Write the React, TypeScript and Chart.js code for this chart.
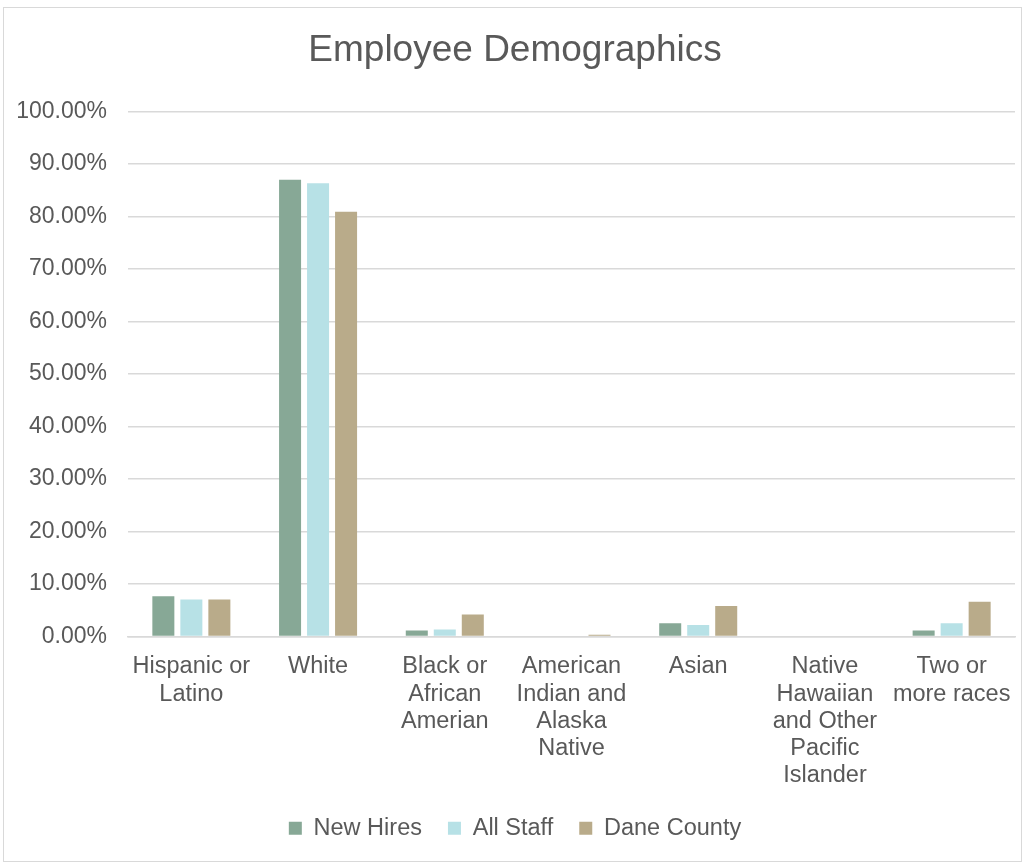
import React, { useEffect, useRef } from "react";
import { Chart, registerables } from "chart.js";

Chart.register(...registerables);

const categories: (string | string[])[] = [
  ["Hispanic or", "Latino"],
  "White",
  ["Black or", "African", "Amerian"],
  ["American", "Indian and", "Alaska", "Native"],
  "Asian",
  ["Native", "Hawaiian", "and Other", "Pacific", "Islander"],
  ["Two or", "more races"],
];

const newHires = [7.65, 87.0, 1.15, 0, 2.5, 0, 1.15];
const allStaff = [7.07, 86.3, 1.35, 0, 2.2, 0, 2.5];
const daneCounty = [7.07, 80.9, 4.2, 0.35, 5.8, 0, 6.6];

const seriesNames = ["New Hires", "All Staff", "Dane County"];
const seriesColors = ["#87A896", "#B7E1E6", "#B9AB8A"];

const yTicksMin = 0;
const yTicksMax = 100;
const yTickStep = 10;

const TEXT = "#595959";
const FONT = "'Liberation Sans', Arial, sans-serif";

export default function App() {
  const ref = useRef<HTMLCanvasElement | null>(null);

  useEffect(() => {
    if (!ref.current) return;
    const chart = new Chart(ref.current, {
      type: "bar",
      data: {
        labels: categories,
        datasets: [newHires, allStaff, daneCounty].map((d, i) => ({
          label: seriesNames[i],
          data: d,
          backgroundColor: seriesColors[i],
          borderWidth: 0,
          barPercentage: 0.786,
          categoryPercentage: 0.663,
        })),
      },
      options: {
        responsive: true,
        maintainAspectRatio: false,
        animation: false,
        layout: { padding: { left: 11, right: 6, top: 0, bottom: 11 } },
        plugins: {
          title: {
            display: true,
            text: "Employee Demographics",
            color: TEXT,
            font: { family: FONT, size: 37, weight: "normal" },
            padding: { top: 21, bottom: 38 },
          },
          legend: {
            position: "bottom",
            labels: {
              color: TEXT,
              font: { family: FONT, size: 23.5 },
              boxWidth: 13,
              boxHeight: 13,
              padding: 26,
            },
          },
          tooltip: { enabled: false },
        },
        scales: {
          x: {
            grid: { display: false, drawTicks: false },
            border: { display: true, color: "#d9d9d9", width: 1.5 },
            afterFit: (s: any) => {
              s.paddingLeft = 0;
              s.paddingRight = 0;
              s.height = 154;
            },
            ticks: {
              color: TEXT,
              font: { family: FONT, size: 23.5, lineHeight: 1.15 },
              padding: 17,
              maxRotation: 0,
              autoSkip: false,
            },
          },
          y: {
            min: yTicksMin,
            max: yTicksMax,
            grid: { color: "#d9d9d9", lineWidth: 1.5, drawTicks: false },
            border: { display: false },
            afterFit: (s: any) => {
              s.width = 113;
            },
            ticks: {
              stepSize: yTickStep,
              color: TEXT,
              font: { family: FONT, size: 23 },
              padding: 21,
              callback: (v: any) => Number(v).toFixed(2) + "%",
            },
          },
        },
      },
    });
    return () => chart.destroy();
  }, []);

  return (
    <div
      style={{
        position: "absolute",
        left: 3,
        top: 7,
        width: 1017,
        height: 853,
        border: "1px solid #d9d9d9",
        background: "#fff",
      }}
    >
      <canvas ref={ref} />
    </div>
  );
}
